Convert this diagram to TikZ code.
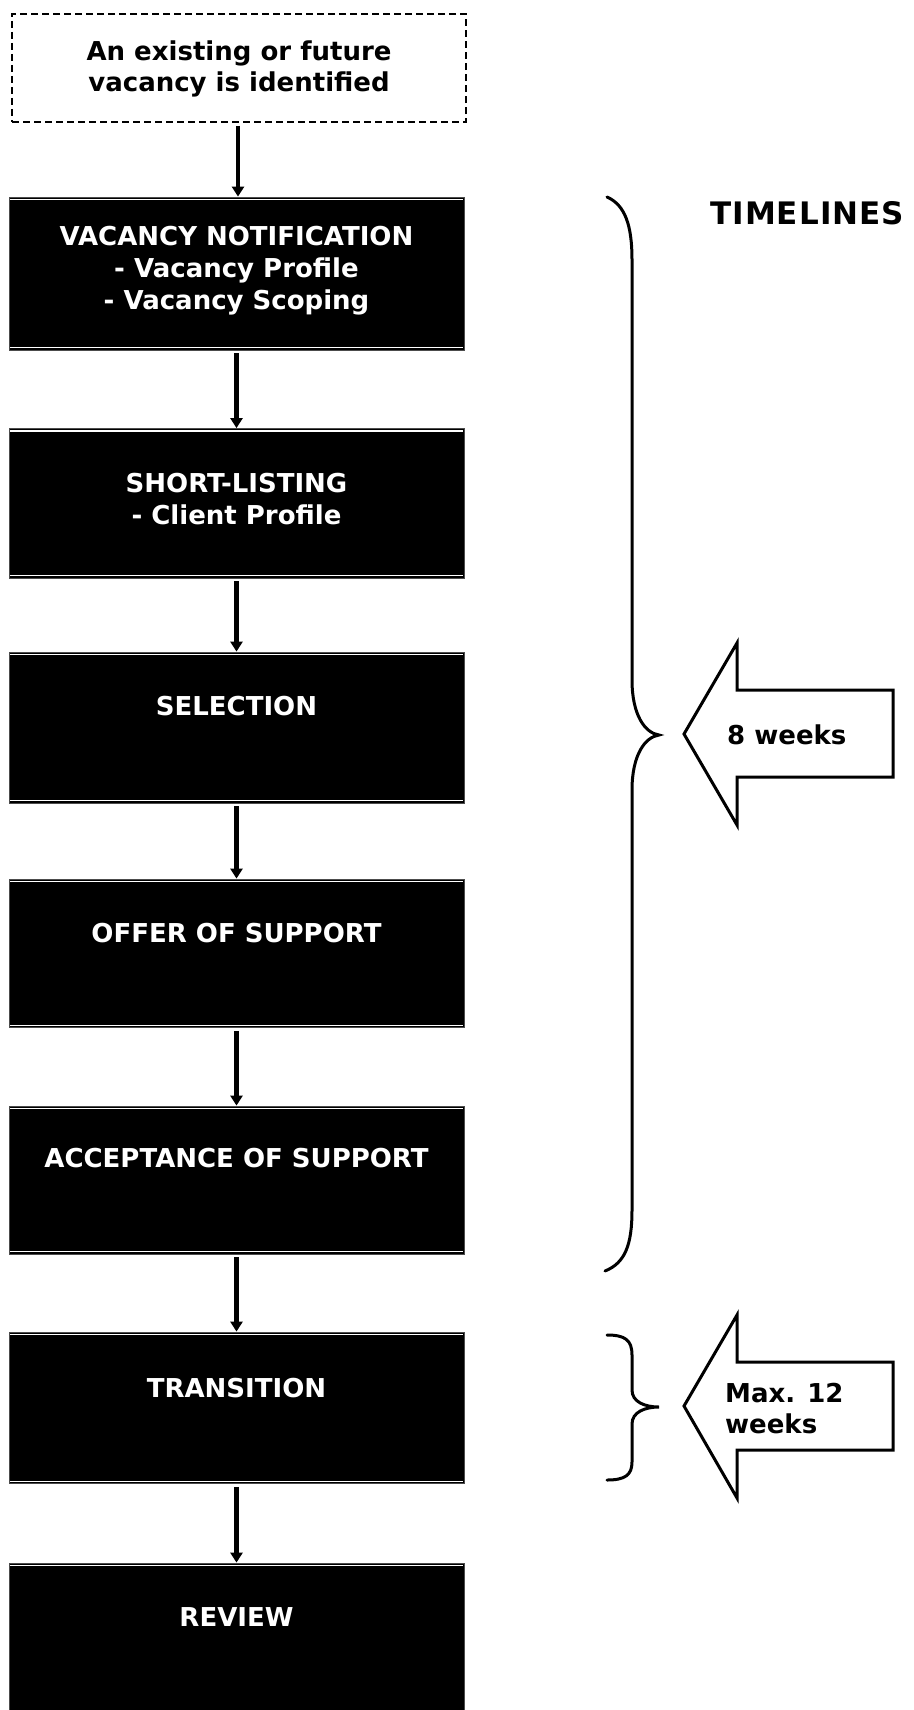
\documentclass[tikz,border=0pt]{standalone}
\usepackage{fontspec}
\setmainfont{DejaVu Sans}
\newfontfamily\tlfont[LetterSpace=3.5]{DejaVu Sans}
\usetikzlibrary{arrows.meta}
\begin{document}
\begin{tikzpicture}[x=1pt,y=-1pt,
  blk/.style={draw=black!70, line width=0.8pt, fill=black, minimum width=455pt, inner sep=0pt},
  lbl/.style={text=white, font=\fontsize{26}{32}\selectfont\bfseries, align=center, anchor=base, inner sep=0pt},
  dlbl/.style={text=black, font=\fontsize{26}{32}\selectfont\bfseries, align=center, anchor=base, inner sep=0pt},
  wline/.style={white, line width=1.2pt},
  flow/.style={line width=4.5pt, -{Triangle[width=12pt,length=10pt]}, shorten <=3pt},
  bracestyle/.style={line width=3pt, line cap=round},
  barrow/.style={line width=3pt, line join=miter, fill=white},
  alabel/.style={font=\fontsize{26}{31}\selectfont\bfseries, anchor=base west, align=left, inner sep=0pt}]
\useasboundingbox (0,0) rectangle (913,1710);

% top dashed box
\node[draw, line width=1.5pt, dash pattern=on 7pt off 4pt, minimum width=454pt, minimum height=108pt, inner sep=0pt] (top) at (239,68) {};
\node[dlbl] (t0) at (239,92) {An existing or future\\vacancy is identified};

% black boxes
\node[blk, minimum height=153pt] (b1) at (236.5,273.5) {};
\node[blk, minimum height=149.5pt] (b2) at (236.5,503.25) {};
\node[blk, minimum height=151pt] (b3) at (236.5,727.5) {};
\node[blk, minimum height=148.5pt] (b4) at (236.5,953.25) {};
\node[blk, minimum height=148pt] (b5) at (236.5,1180) {};
\node[blk, minimum height=151.5pt] (b6) at (236.5,1407.75) {};
\node[blk, minimum height=148pt] (b7) at (236.5,1637) {};

\foreach \b in {b1,b2,b3,b4,b5,b6}{
  \draw[wline] ([xshift=1.5pt,yshift=-2.8pt]\b.north west) -- ([xshift=-1.5pt,yshift=-2.8pt]\b.north east);
  \draw[wline] ([xshift=1.5pt,yshift=2.8pt]\b.south west) -- ([xshift=-1.5pt,yshift=2.8pt]\b.south east);
}
\draw[wline] ([xshift=1.5pt,yshift=-2.8pt]b7.north west) -- ([xshift=-1.5pt,yshift=-2.8pt]b7.north east);

% labels (anchor base = last line baseline)
\node[lbl] (t1) at (236.5,309) {VACANCY NOTIFICATION\\- Vacancy Profile\\- Vacancy Scoping};
\node[lbl] (t2) at (236.5,524) {SHORT-LISTING\\- Client Profile};
\node[lbl] (t3) at (236.5,715) {SELECTION};
\node[lbl] (t4) at (236.5,942) {OFFER OF SUPPORT};
\node[lbl] (t5) at (236.5,1167) {ACCEPTANCE OF SUPPORT};
\node[lbl] (t6) at (236.5,1397) {TRANSITION};
\node[lbl] (t7) at (236.5,1626) {REVIEW};

% flow arrows
\draw[flow] (top.south -| 238,0) -- (238,0 |- b1.north);
\draw[flow] (b1.south) -- (b2.north);
\draw[flow] (b2.south) -- (b3.north);
\draw[flow] (b3.south) -- (b4.north);
\draw[flow] (b4.south) -- (b5.north);
\draw[flow] (b5.south) -- (b6.north);
\draw[flow] (b6.south) -- (b7.north);

% timelines
\node[anchor=base west, inner sep=0pt, font=\tlfont\fontsize{31}{31}\selectfont\bfseries] (tl) at (710,224) {TIMELINES};

% brace 1
\draw[bracestyle] (607,197) .. controls (625,205) and (632,225) .. (632,260) -- (632,680)
  .. controls (632,715) and (645,733) .. (659,735)
  .. controls (645,737) and (632,755) .. (632,790) -- (632,1210)
  .. controls (632,1245) and (625,1263) .. (605,1271);
% brace 2
\draw[bracestyle] (607,1335) .. controls (625,1335) and (632,1340) .. (632,1355) -- (632,1390)
  .. controls (632,1402) and (645,1407) .. (659,1407)
  .. controls (645,1407) and (632,1412) .. (632,1424) -- (632,1462)
  .. controls (632,1475) and (625,1480) .. (607,1480);

% block arrows
\draw[barrow] (684,734) -- (737,643) -- (737,690) -- (893,690) -- (893,777) -- (737,777) -- (737,825) -- cycle;
\node[alabel] (w8) at (727,744) {8 weeks};
\draw[barrow] (684,1406) -- (737,1315) -- (737,1362) -- (893,1362) -- (893,1450) -- (737,1450) -- (737,1498) -- cycle;
\node[alabel] (w12) at (725,1433) {Max. 12\\weeks};
\end{tikzpicture}
\end{document}
